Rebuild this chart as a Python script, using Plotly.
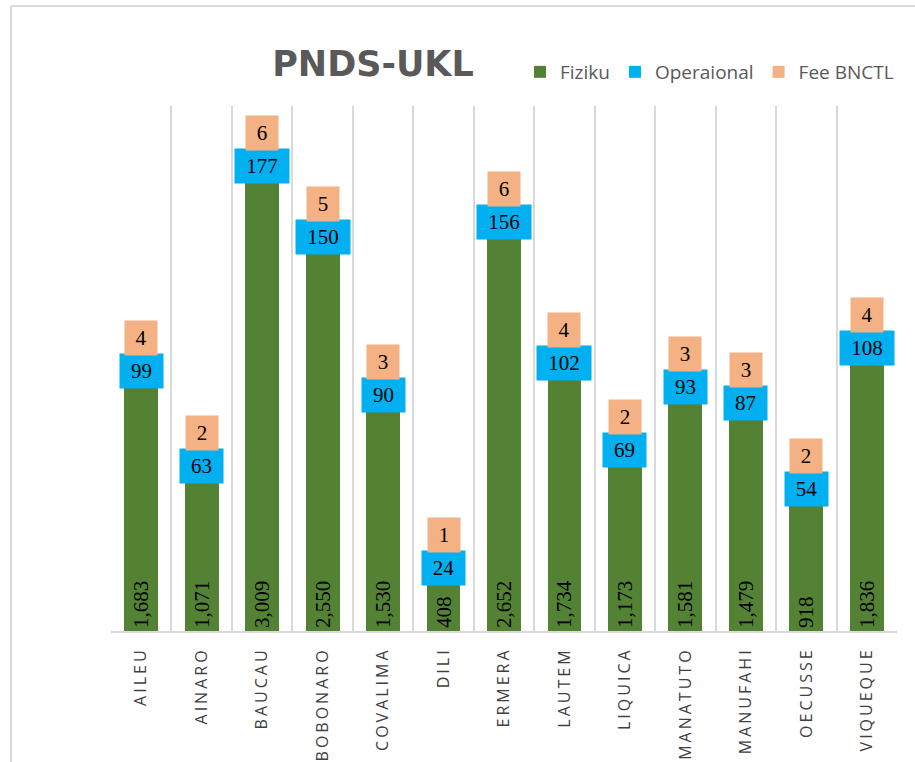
import plotly.graph_objects as go

districts = ["AILEU", "AINARO", "BAUCAU", "BOBONARO", "COVALIMA", "DILI", "ERMERA",
             "LAUTEM", "LIQUICA", "MANATUTO", "MANUFAHI", "OECUSSE", "VIQUEQUE"]
fiziku = [1683, 1071, 3009, 2550, 1530, 408, 2652, 1734, 1173, 1581, 1479, 918, 1836]
operaional = [99, 63, 177, 150, 90, 24, 156, 102, 69, 93, 87, 54, 108]
fee_bnctl = [4, 2, 6, 5, 3, 1, 6, 4, 2, 3, 3, 2, 4]

GREEN = "#548235"
BLUE = "#00B0F0"
ORANGE = "#F4B183"
GRID = "#D9D9D9"
LABEL_FONT = dict(family="Liberation Serif", size=21, color="black")

fig = go.Figure()
fig.add_trace(go.Bar(
    name="Fiziku", x=districts, y=fiziku, marker=dict(color=GREEN, line=dict(width=0)),
    texttemplate="%{y:,}", textposition="inside", insidetextanchor="start",
    textangle=-90, textfont=LABEL_FONT, cliponaxis=False,
))
fig.add_trace(go.Bar(
    name="Operaional", x=districts, y=operaional, marker=dict(color=BLUE, line=dict(width=0)),
))
fig.add_trace(go.Bar(
    name="Fee BNCTL", x=districts, y=fee_bnctl, marker=dict(color=ORANGE, line=dict(width=0)),
))

annotations = []
for d, g, b, f in zip(districts, fiziku, operaional, fee_bnctl):
    yc = g + b / 2
    tb = str(b)
    annotations.append(dict(
        x=d, y=yc, xref="x", yref="y", text=tb, showarrow=False,
        bgcolor=BLUE, font=LABEL_FONT, borderpad=5, width=11 * len(tb) + 11,
        xanchor="center", yanchor="middle",
    ))
    tf = str(f)
    annotations.append(dict(
        x=d, y=yc, xref="x", yref="y", text=tf, showarrow=False,
        bgcolor=ORANGE, font=LABEL_FONT, borderpad=5, width=11 * len(tf) + 11,
        xanchor="center", yanchor="middle", yshift=33,
    ))

W, H = 915, 762
ml, mr, mt, mb = 111, 18, 106, 131
pw, ph = W - ml - mr, H - mt - mb

def px_x(p):
    return (p - ml) / pw

def px_y(p):
    return (H - mb - p) / ph

shapes = [
    dict(type="line", xref="paper", yref="paper", x0=px_x(11), x1=px_x(11),
         y0=px_y(6), y1=px_y(H + 5), line=dict(color=GRID, width=2)),
    dict(type="line", xref="paper", yref="paper", x0=px_x(11), x1=px_x(W + 5),
         y0=px_y(6), y1=px_y(6), line=dict(color=GRID, width=2)),
]

fig.update_layout(
    width=W, height=H,
    margin=dict(l=ml, r=mr, t=mt, b=mb, autoexpand=False),
    barmode="stack", bargap=0.44,
    paper_bgcolor="white", plot_bgcolor="white",
    title=dict(text="PNDS-UKL", x=px_x(373), xanchor="center", xref="paper",
               y=1 - 64 / H, yref="container", yanchor="middle",
               font=dict(family="DejaVu Sans", size=35, color="#595959", weight="bold")),
    legend=dict(orientation="h", x=px_x(520), xanchor="left", y=px_y(72), yanchor="middle",
                font=dict(family="Open Sans", size=19, color="#595959"),
                itemclick=False, traceorder="normal", bgcolor="rgba(0,0,0,0)",
                tracegroupgap=0),
    xaxis=dict(type="category", tickson="boundaries", showgrid=True, gridcolor=GRID, gridwidth=2,
               showline=True, linecolor=GRID, linewidth=2, ticks="", tickangle=-90,
               ticklabelstandoff=8,
               tickfont=dict(family="Open Sans", size=16, color="#404040")),
    yaxis=dict(range=[0, 3500], visible=False, showgrid=False),
    annotations=annotations,
    shapes=shapes,
    showlegend=True,
)

post = """
document.body.style.margin='0';
var gd=document.getElementById('{plot_id}');
gd.querySelectorAll('.xtick text').forEach(function(t){t.style.letterSpacing='3px';});
"""

fig.write_html("out.html", post_script=post, config={"displayModeBar": False})
